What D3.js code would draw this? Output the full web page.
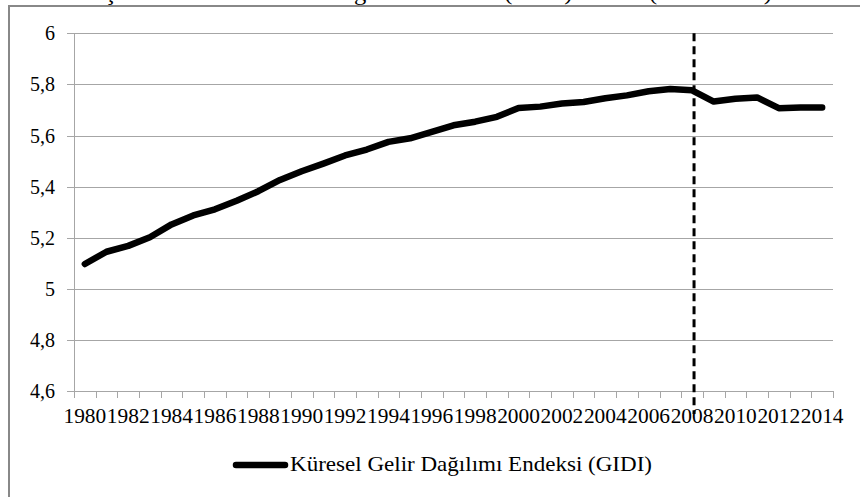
<!DOCTYPE html>
<html>
<head>
<meta charset="utf-8">
<script src="https://cdn.jsdelivr.net/npm/d3@7"></script>
<style>
  body { margin: 0; background: #fff; }
  svg { display: block; }
  text { font-family: "Liberation Serif", "DejaVu Serif", serif; fill: #000; }
</style>
</head>
<body>
<svg width="860" height="497"></svg>
<script>
const years = d3.range(1980, 2015);
const gidi = [
  5.097, 5.145, 5.168, 5.202, 5.252, 5.287, 5.311, 5.345, 5.382, 5.426,
  5.460, 5.490, 5.522, 5.545, 5.575, 5.589, 5.614, 5.640, 5.654, 5.673,
  5.708, 5.713, 5.725, 5.731, 5.746, 5.757, 5.773, 5.782, 5.777, 5.733,
  5.744, 5.749, 5.707, 5.710, 5.710
];
const yTicks = [4.6, 4.8, 5, 5.2, 5.4, 5.6, 5.8, 6];
const xLabelYears = years.filter(y => y % 2 === 0);
const markerYear = 2008;
const seriesName = 'Küresel Gelir Dağılımı Endeksi (GIDI)';
const title = 'Şekil 1: Küresel Gelir Dağılımı Endeksi (GIDI) Trendi (1980-2014)';

const svg = d3.select('svg');
const gridColor = '#a6a6a6';

const x = d3.scaleBand().domain(years).range([74, 833]).paddingInner(0).paddingOuter(0);
const y = d3.scaleLinear().domain([4.6, 6]).range([391, 33.3]);
const cx = d => x(d) + x.bandwidth() / 2;

// title sits above the frame, only its lower part shows
svg.append('text')
    .attr('x', 104).attr('y', 0)
    .attr('textLength', 668).attr('lengthAdjust', 'spacingAndGlyphs')
    .style('font-size', '21px')
    .text(title);

// outer frame (runs off the right and bottom)
svg.append('rect')
    .attr('x', 9).attr('y', 6).attr('width', 900).attr('height', 600)
    .attr('fill', 'none').attr('stroke', '#888').attr('stroke-width', 2);

// gridlines + y ticks
svg.append('g').selectAll('line').data(yTicks).enter()
  .append('line')
    .attr('x1', 67).attr('x2', 833)
    .attr('y1', d => Math.round(y(d)) + 0.5).attr('y2', d => Math.round(y(d)) + 0.5)
    .attr('stroke', gridColor).attr('stroke-width', 1);

// y axis line
svg.append('line')
    .attr('x1', 74.5).attr('x2', 74.5).attr('y1', y(6)).attr('y2', y(4.6))
    .attr('stroke', gridColor);

// y labels
svg.append('g').selectAll('text').data(yTicks).enter()
  .append('text')
    .attr('x', 55).attr('y', d => y(d)).attr('dy', '0.35em')
    .attr('text-anchor', 'end')
    .style('font-size', '20px')
    .text(d => String(+d.toFixed(1)).replace('.', ','));

// x ticks at category boundaries
const bounds = years.map(d => x(d)).concat([x.range()[1]]);
svg.append('g').selectAll('line').data(bounds).enter()
  .append('line')
    .attr('x1', d => Math.round(d) + 0.5).attr('x2', d => Math.round(d) + 0.5)
    .attr('y1', y(4.6)).attr('y2', y(4.6) + 7)
    .attr('stroke', gridColor);

// x labels (they touch each other in the original)
svg.append('g').selectAll('text').data(xLabelYears).enter()
  .append('text')
    .attr('x', d => cx(d) - x.bandwidth() + 0.3).attr('y', 423)
    .attr('textLength', x.bandwidth() * 2 - 0.6)
    .attr('lengthAdjust', 'spacingAndGlyphs')
    .style('font-size', '21px')
    .text(d => d);

// dashed marker
svg.append('line')
    .attr('x1', cx(markerYear) + 2).attr('x2', cx(markerYear) + 2)
    .attr('y1', y(6)).attr('y2', 414)
    .attr('stroke', '#000').attr('stroke-width', 3)
    .attr('stroke-dasharray', '8,5');

// series line
const line = d3.line().x((d, i) => cx(years[i])).y(d => y(d));
svg.append('path')
    .attr('d', line(gidi))
    .attr('fill', 'none').attr('stroke', '#000')
    .attr('stroke-width', 6.5)
    .attr('stroke-linejoin', 'round').attr('stroke-linecap', 'round');

// legend
svg.append('line')
    .attr('x1', 236).attr('x2', 285).attr('y1', 465).attr('y2', 465)
    .attr('stroke', '#000').attr('stroke-width', 6.5).attr('stroke-linecap', 'round');
svg.append('text')
    .attr('x', 290).attr('y', 471)
    .attr('textLength', 362).attr('lengthAdjust', 'spacingAndGlyphs')
    .style('font-size', '21px')
    .text(seriesName);
</script>
</body>
</html>
